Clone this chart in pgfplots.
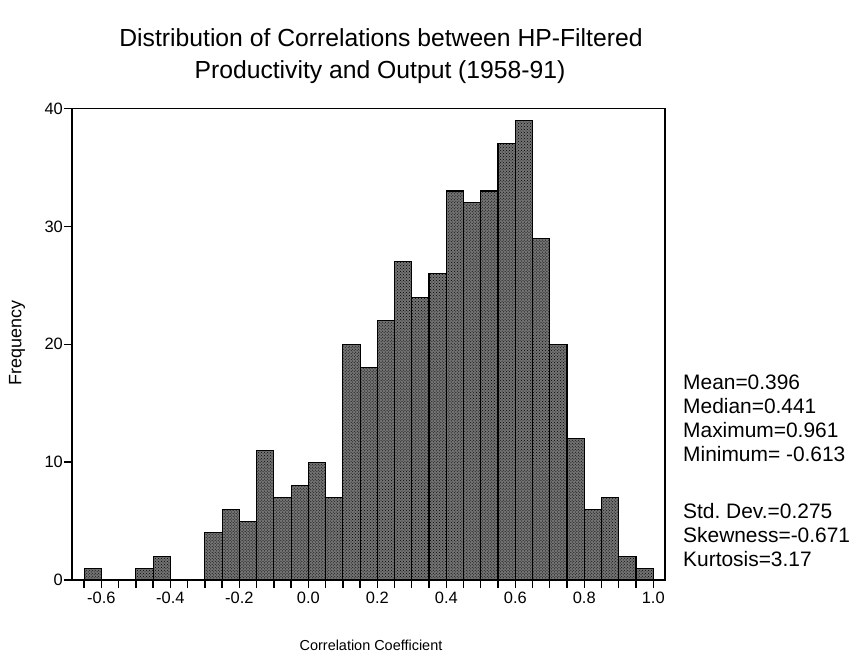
\documentclass[border=0pt]{standalone}
\usepackage{pgfplots}
\pgfplotsset{compat=1.18}
\usetikzlibrary{patterns}
\usepackage{fontspec}
\setmainfont{Liberation Sans}

\begin{document}
\frenchspacing
\begin{tikzpicture}
\useasboundingbox (-72bp,-86bp) rectangle (785bp,580bp);

\begin{axis}[
    scale only axis,
    width=593bp, height=471.5bp,
    xmin=-0.685, xmax=1.034,
    ymin=0, ymax=40,
    axis line style={line width=1.8bp},
    tick align=outside,
    xtick pos=bottom, ytick pos=left,
    xtick={-0.6,-0.4,-0.2,0,0.2,0.4,0.6,0.8,1.0},
    minor xtick={-0.65,-0.55,-0.5,-0.45,-0.35,-0.3,-0.25,-0.15,-0.1,-0.05,0.05,0.1,0.15,0.25,0.3,0.35,0.45,0.5,0.55,0.65,0.7,0.75,0.85,0.9,0.95},
    ytick={0,10,20,30,40},
    major tick length=8bp, minor tick length=8bp,
    every tick/.style={black, line width=1.4bp},
    xticklabel style={/pgf/number format/fixed, /pgf/number format/fixed zerofill, /pgf/number format/precision=1, font=\fontsize{16.5}{18}\selectfont, yshift=-1bp},
    yticklabel style={font=\fontsize{16.5}{18}\selectfont, inner sep=1bp},
    /pgf/number format/assume math mode=true,
]
\addplot[ybar interval, draw=black, line width=1.1bp, fill=black!55,
         postaction={pattern=crosshatch dots, pattern color=black}]
coordinates {
(-0.65,1) (-0.60,0) (-0.55,0) (-0.50,1) (-0.45,2) (-0.40,0) (-0.35,0)
(-0.30,4) (-0.25,6) (-0.20,5) (-0.15,11) (-0.10,7) (-0.05,8) (0.00,10)
(0.05,7) (0.10,20) (0.15,18) (0.20,22) (0.25,27) (0.30,24) (0.35,26)
(0.40,33) (0.45,32) (0.50,33) (0.55,37) (0.60,39) (0.65,29) (0.70,20)
(0.75,12) (0.80,6) (0.85,7) (0.90,2) (0.95,1) (1.00,1)
};
\end{axis}

% title
\node[anchor=base, font=\fontsize{24.8}{29}\selectfont] at (309bp,533.5bp) {Distribution of Correlations between HP-Filtered};
\node[anchor=base, font=\fontsize{24.8}{29}\selectfont] at (308bp,501.5bp) {Productivity and Output (1958-91)};

% axis labels
\node[rotate=90, font=\fontsize{18}{20}\selectfont] at (-55bp,237bp) {Frequency};
\node[anchor=base, font=\fontsize{14.5}{17}\selectfont] at (299bp,-70bp) {Correlation Coefficient};

% statistics
\begin{scope}[every node/.style={anchor=base west, inner sep=0pt, font=\fontsize{21}{24}\selectfont}]
\node at (611bp,190.7bp) {Mean=0.396};
\node at (611bp,166.7bp) {Median=0.441};
\node at (611bp,142.7bp) {Maximum=0.961};
\node at (611bp,118.3bp) {Minimum= -0.613};
\node at (611bp,61.7bp) {Std. Dev.=0.275};
\node at (611bp,37.3bp) {Skewness=-0.671};
\node at (611bp,13.3bp) {Kurtosis=3.17};
\end{scope}
\end{tikzpicture}
\end{document}
